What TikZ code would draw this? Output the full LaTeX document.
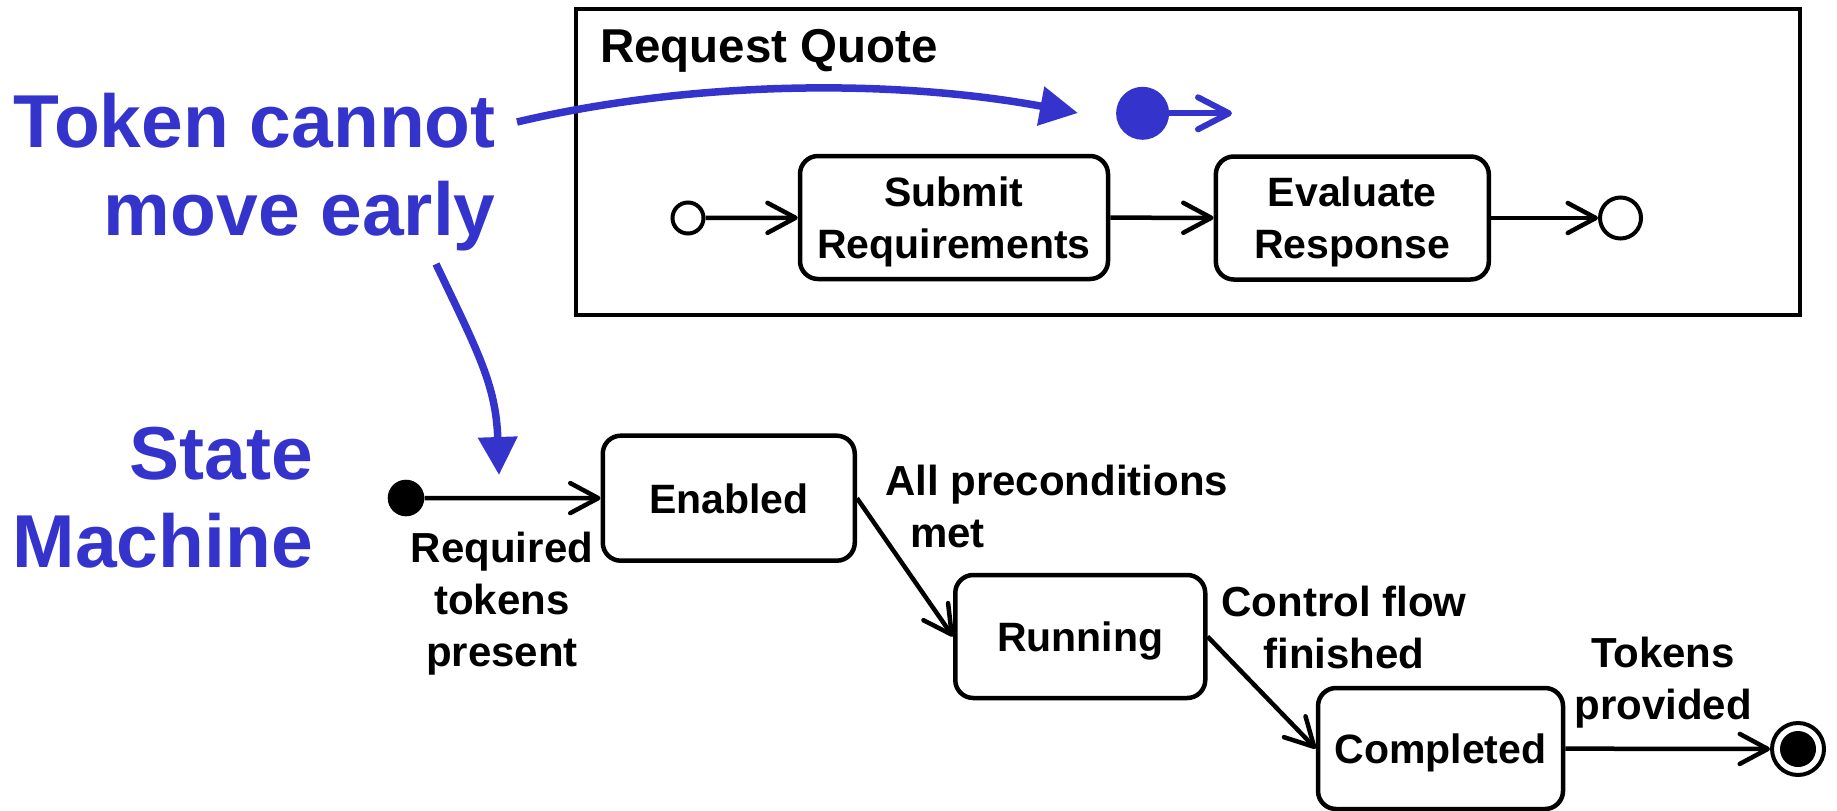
\documentclass[tikz,border=0pt]{standalone}
\usepackage{fontspec}
\setmainfont{Liberation Sans}
\usetikzlibrary{arrows.meta}
\definecolor{tokblue}{RGB}{52,52,204}
\begin{document}
\begin{tikzpicture}[x=1pt,y=-1pt,
  lbl/.style={font=\bfseries\fontsize{42}{52}\selectfont, inner sep=0pt, align=center},
  big/.style={font=\bfseries\fontsize{75}{88}\selectfont, inner sep=0pt, text=tokblue, align=right},
  statebox/.style={draw, line width=4.5pt, rounded corners=18pt, font=\bfseries\fontsize{41}{52}\selectfont, align=center, text depth=0pt, inner sep=0pt},
  flow/.style={line width=4.5pt, -{Straight Barb[length=28pt,width=30pt,round]}},
  bflow/.style={line width=7.5pt, draw=tokblue, -{Triangle[length=38pt,width=38pt]}},
  opencirc/.style={circle, draw, line width=4pt, inner sep=0pt},
  dotnode/.style={circle, fill, inner sep=0pt},
  finalnode/.style={circle, draw, line width=4pt, inner sep=0pt, minimum size=52pt,
     path picture={\fill (path picture bounding box.center) circle (18pt);}},
  frame/.style={draw, line width=4.5pt, inner sep=0pt}
]
\useasboundingbox (0,0) rectangle (1837,811);

% Request Quote activity frame
\node[frame, minimum width=1224pt, minimum height=306pt] (rq) at (1188,162) {};
\node[font=\bfseries\fontsize{47.5}{56}\selectfont, inner sep=0pt, anchor=base west] (rqt) at (600,62) {Request Quote};

% activity nodes
\node[opencirc, minimum size=31pt] (ai) at (688,218) {};
\node[statebox, minimum width=308pt, minimum height=123pt] (submit) at (954,217.5) {Submit\\Requirements};
\node[statebox, minimum width=273pt, minimum height=123pt] (evaluate) at (1352.3,218) {Evaluate\\Response};
\node[opencirc, minimum size=41pt] (af) at (1620.5,218) {};

\draw[flow] (ai) -- (submit);
\draw[flow] (submit) -- (evaluate);
\draw[flow] (evaluate) -- (af);

% token
\node[dotnode, fill=tokblue, minimum size=53pt] (tok) at (1142.6,113.3) {};
\coordinate (tokend) at (1232,113.3);
\draw[line width=6pt, draw=tokblue, -{Straight Barb[length=31pt,width=32pt,round]}] (tok.east) -- (tokend);

% blue annotations
\node[big, anchor=north east] (tce) at (496,93) {Token cannot\\move early};
\node[big, anchor=north east] (sm) at (313,427) {State\\Machine};

\coordinate (b1s) at (517,122);
\coordinate (b1e) at (1078,113);
\draw[bflow] (b1s) .. controls (700,79) and (900,80) .. (b1e);
\coordinate (b2s) at (436,264);
\coordinate (b2e) at (499,475);
\draw[bflow] (b2s) .. controls (478,352) and (496,385) .. (b2e);

% state machine
\node[dotnode, minimum size=36.6pt] (si) at (406,498) {};
\node[statebox, minimum width=252pt, minimum height=125pt] (enabled) at (728.75,498.2) {Enabled};
\node[statebox, minimum width=250pt, minimum height=123pt] (running) at (1080.25,636.5) {Running};
\node[statebox, minimum width=245pt, minimum height=121pt] (completed) at (1440.5,748.5) {Completed};
\node[finalnode] (sf) at (1798,749) {};

\draw[flow] (si) -- (enabled);
\draw[flow] (enabled.east) -- (running.west);
\draw[flow] (running.east) -- (completed.west);
\draw[flow] (completed) -- (sf);

% transition labels
\node[lbl, anchor=north] (l1) at (502,532) {Required\\tokens\\present};
\node[lbl, anchor=north west, align=left] (l2) at (885,465) {All preconditions\\\hspace*{25pt}met};
\node[lbl, anchor=north] (l3) at (1344,586) {Control flow\\finished};
\node[lbl, anchor=north] (l4) at (1663,637) {Tokens\\provided};
\end{tikzpicture}
\end{document}
